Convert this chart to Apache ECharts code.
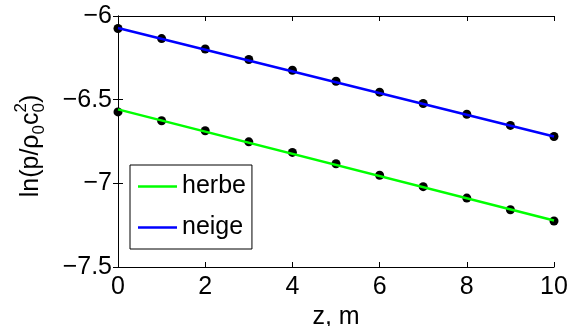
<!DOCTYPE html>
<html><head><meta charset="utf-8">
<script src="https://cdn.jsdelivr.net/npm/echarts@6/dist/echarts.min.js"></script>
<style>html,body{margin:0;padding:0;background:#fff}#c{width:571px;height:326px}</style>
</head><body><div id="c"></div>
<script>
// ---- data ----
const zValues = [0, 1, 2, 3, 4, 5, 6, 7, 8, 9, 10];
const herbePoints = [-6.573, -6.626, -6.686, -6.752, -6.815, -6.883, -6.952, -7.020, -7.088, -7.158, -7.225];
const neigePoints = [-6.075, -6.135, -6.197, -6.260, -6.324, -6.390, -6.455, -6.523, -6.587, -6.654, -6.720];
const fitZ = [0, 10];
const herbeFit = [-6.558, -7.222];
const neigeFit = [-6.072, -6.720];
const seriesNames = ['herbe', 'neige'];
const xTickLabels = ['0', '2', '4', '6', '8', '10'];
const yTickLabels = {'-7.5': '\u22127.5', '-7': '\u22127', '-6.5': '\u22126.5', '-6': '\u22126'};

const FAM = 'Liberation Sans, Arial, sans-serif';
const FS = 25;
const zip = (xs, ys) => xs.map((x, i) => [x, ys[i]]);

// ---- y axis title with sub/superscripts ----
const ctx = document.createElement('canvas').getContext('2d');
function tw(t, size) { ctx.font = size + 'px ' + FAM; return ctx.measureText(t).width; }
const SS = 17, SUB = 8, SUP = -10;
const parts = [
  {t: 'ln(p/\u03c1', size: FS, dy: 0, adv: true},
  {t: '0', size: SS, dy: SUB, adv: true},
  {t: 'c', size: FS, dy: 0, adv: true},
  {t: '0', size: SS, dy: SUB, adv: false},
  {t: '2', size: SS, dy: SUP, adv: true},
  {t: ')', size: FS, dy: 0, adv: true}
];
let total = 0;
parts.forEach(p => { if (p.adv) total += tw(p.t, p.size); });
let cx = -total / 2;
const titleChildren = parts.map(p => {
  const el = {type: 'text', x: cx, y: p.dy, style: {text: p.t, font: p.size + 'px ' + FAM, fill: '#000', align: 'left', verticalAlign: 'middle'}};
  if (p.adv) cx += tw(p.t, p.size);
  return el;
});

const chart = echarts.init(document.getElementById('c'), null, {renderer: 'canvas'});
const axisCommon = {
  type: 'value',
  axisLine: {show: true, lineStyle: {color: '#000', width: 1}},
  axisTick: {show: true, inside: true, length: 5, lineStyle: {color: '#000'}},
  splitLine: {show: false}
};
chart.setOption({
  animation: false,
  backgroundColor: '#fff',
  grid: {left: 118, right: 17, top: 16, bottom: 59, show: false, outerBoundsMode: 'none'},
  xAxis: [
    Object.assign({}, axisCommon, {
      min: 0, max: 10, interval: 2, position: 'bottom',
      axisLabel: {fontSize: FS, fontFamily: FAM, color: '#000', margin: 8,
        formatter: v => xTickLabels[Math.round(v / 2)]},
      name: 'z, m', nameLocation: 'middle', nameGap: 35,
      nameTextStyle: {fontSize: FS, fontFamily: FAM, color: '#000'}
    }),
    Object.assign({}, axisCommon, {
      min: 0, max: 10, interval: 2, position: 'top', axisLabel: {show: false}
    })
  ],
  yAxis: [
    Object.assign({}, axisCommon, {
      min: -7.5, max: -6, interval: 0.5, position: 'left',
      axisLabel: {fontSize: FS, fontFamily: FAM, color: '#000', margin: 6, padding: [8, 0, 0, 0],
        formatter: v => yTickLabels[String(v)]}
    }),
    Object.assign({}, axisCommon, {
      min: -7.5, max: -6, interval: 0.5, position: 'right', axisLabel: {show: false}
    })
  ],
  legend: {
    data: seriesNames.map(n => ({name: n, icon: 'rect'})),
    orient: 'vertical', left: 130, top: 165,
    padding: [9, 6, 9, 8], itemGap: 16, itemWidth: 39, itemHeight: 2.5,
    borderColor: '#000', borderWidth: 1, backgroundColor: '#fff', borderRadius: 0,
    textStyle: {fontSize: FS, fontFamily: FAM, color: '#000', lineHeight: 25}
  },
  graphic: [{type: 'group', x: 31, y: 146, rotation: Math.PI / 2, children: titleChildren}],
  series: [
    {name: seriesNames[0], type: 'line', data: zip(fitZ, herbeFit), symbol: 'none',
      lineStyle: {color: '#00ff00', width: 2.5}, itemStyle: {color: '#00ff00'}},
    {name: seriesNames[1], type: 'line', data: zip(fitZ, neigeFit), symbol: 'none',
      lineStyle: {color: '#0000ff', width: 2.5}, itemStyle: {color: '#0000ff'}},
    {name: 'herbe data', type: 'scatter', data: zip(zValues, herbePoints), symbolSize: 9,
      itemStyle: {color: '#000', opacity: 1}},
    {name: 'neige data', type: 'scatter', data: zip(zValues, neigePoints), symbolSize: 9,
      itemStyle: {color: '#000', opacity: 1}}
  ]
});
</script></body></html>
